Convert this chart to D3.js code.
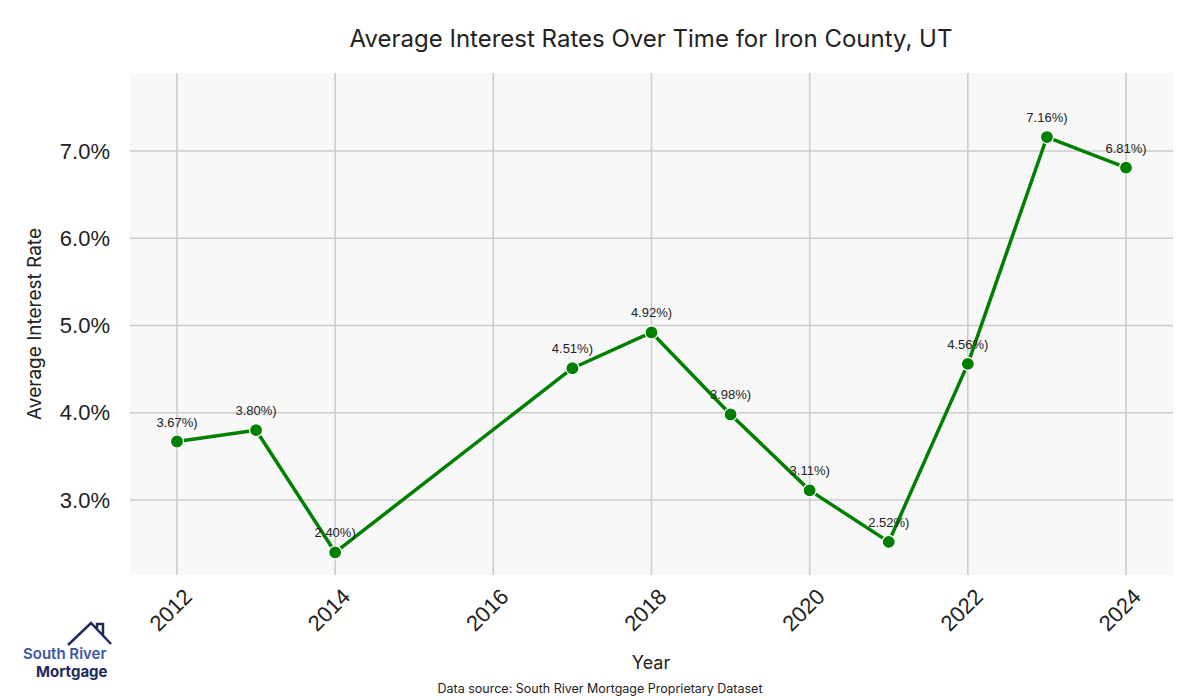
<!DOCTYPE html>
<html>
<head>
<meta charset="utf-8">
<script src="https://cdn.jsdelivr.net/npm/d3@7"></script>
<style>
  body { margin: 0; background: #fff; }
  .axis text { font-family: "Liberation Sans", Arial, sans-serif; fill: #222; }
  .axis path, .axis line { display: none; }
</style>
</head>
<body>
<div class="chart"></div>
<script>
// data
const years = [2012, 2013, 2014, 2017, 2018, 2019, 2020, 2021, 2022, 2023, 2024];
const rates = [3.67, 3.80, 2.40, 4.51, 4.92, 3.98, 3.11, 2.52, 4.56, 7.16, 6.81];
const xTicks = [2012, 2014, 2016, 2018, 2020, 2022, 2024];
const yTicks = [3, 4, 5, 6, 7];

const data = years.map((y, i) => ({ year: y, rate: rates[i] }));

var margin = ({top: 73, right: 27, bottom: 125, left: 130});
var width = 1200 - margin.left - margin.right,
    height = 700 - margin.top - margin.bottom;

var root = d3.select(".chart").append("svg")
    .attr("width", 1200)
    .attr("height", 700);

var svg = root.append("g")
    .attr("transform", "translate(" + margin.left + "," + margin.top + ")");

const xScale = d3.scaleLinear()
    .domain([2011.406, 2024.594])
    .range([0, width]);

const yScale = d3.scaleLinear()
    .domain([2.14, 7.894])
    .range([height, 0]);

// background
svg.append("rect")
    .attr("width", width)
    .attr("height", height)
    .attr("fill", "#f8f8f8");

// grid
svg.selectAll(".vgrid").data(xTicks).enter().append("line")
    .attr("x1", d => xScale(d)).attr("x2", d => xScale(d))
    .attr("y1", 0).attr("y2", height)
    .attr("stroke", "#cccccc").attr("stroke-width", 1.6);

svg.selectAll(".hgrid").data(yTicks).enter().append("line")
    .attr("y1", d => yScale(d)).attr("y2", d => yScale(d))
    .attr("x1", 0).attr("x2", width)
    .attr("stroke", "#cccccc").attr("stroke-width", 1.6);

// axes
const xAxis = d3.axisBottom(xScale)
    .tickValues(xTicks)
    .tickFormat(d3.format("d"))
    .tickSize(0);

svg.append("g")
    .attr("class", "axis x-axis")
    .attr("transform", `translate(0, ${height})`)
    .call(xAxis)
    .selectAll("text")
    .attr("font-size", 22)
    .attr("dy", null)
    .attr("y", 0)
    .attr("text-anchor", "end")
    .attr("transform", "translate(16,23) rotate(-45)");

const yAxis = d3.axisLeft(yScale)
    .tickValues(yTicks)
    .tickFormat(d => d.toFixed(1) + "%")
    .tickSize(0)
    .tickPadding(20);

svg.append("g")
    .attr("class", "axis y-axis")
    .call(yAxis)
    .selectAll("text")
    .attr("font-size", 22);

// line
const line = d3.line()
    .x(d => xScale(d.year))
    .y(d => yScale(d.rate));

svg.append("path")
    .datum(data)
    .attr("fill", "none")
    .attr("stroke", "#008000")
    .attr("stroke-width", 3.5)
    .attr("stroke-linejoin", "round")
    .attr("d", line);

svg.selectAll(".dot").data(data).enter().append("circle")
    .attr("cx", d => xScale(d.year))
    .attr("cy", d => yScale(d.rate))
    .attr("r", 6.5)
    .attr("fill", "#008000")
    .attr("stroke", "#ffffff")
    .attr("stroke-width", 1.2);

svg.selectAll(".lbl").data(data).enter().append("text")
    .attr("x", d => xScale(d.year))
    .attr("y", d => yScale(d.rate) - 15)
    .attr("text-anchor", "middle")
    .attr("font-family", "Liberation Sans, Arial, sans-serif")
    .attr("font-size", 13)
    .attr("fill", "#222")
    .text(d => d.rate.toFixed(2) + "%)");

// titles
root.append("text")
    .attr("x", 651).attr("y", 47)
    .attr("text-anchor", "middle")
    .attr("font-family", "Inter, sans-serif")
    .attr("font-size", 24)
    .attr("fill", "#222")
    .text("Average Interest Rates Over Time for Iron County, UT");

root.append("text")
    .attr("x", 651).attr("y", 669)
    .attr("text-anchor", "middle")
    .attr("font-family", "Inter, sans-serif")
    .attr("font-size", 18)
    .attr("fill", "#222")
    .text("Year");

root.append("text")
    .attr("transform", "translate(41," + (margin.top + height / 2) + ") rotate(-90)")
    .attr("text-anchor", "middle")
    .attr("font-family", "Inter, sans-serif")
    .attr("font-size", 19)
    .attr("fill", "#222")
    .text("Average Interest Rate");

root.append("text")
    .attr("x", 600).attr("y", 693)
    .attr("text-anchor", "middle")
    .attr("font-family", "Inter, sans-serif")
    .attr("font-size", 12.5)
    .attr("fill", "#222")
    .text("Data source: South River Mortgage Proprietary Dataset");

// logo
const logo = root.append("g");
logo.append("path")
    .attr("d", "M68,645 L91,623 L111,644 M97,629 L97,624 L103,624 L103,636")
    .attr("fill", "none")
    .attr("stroke", "#1f2a5c")
    .attr("stroke-width", 2.5);
logo.append("text")
    .attr("x", 23).attr("y", 659)
    .attr("font-family", "Inter, sans-serif")
    .attr("font-size", 15)
    .attr("font-weight", 600)
    .attr("fill", "#3b55a5")
    .attr("letter-spacing", 0)
    .text("South River");
logo.append("text")
    .attr("x", 36).attr("y", 677)
    .attr("font-family", "Inter, sans-serif")
    .attr("font-size", 15)
    .attr("font-weight", 700)
    .attr("fill", "#1f2a5c")
    .attr("letter-spacing", 0)
    .text("Mortgage");
</script>
</body>
</html>
